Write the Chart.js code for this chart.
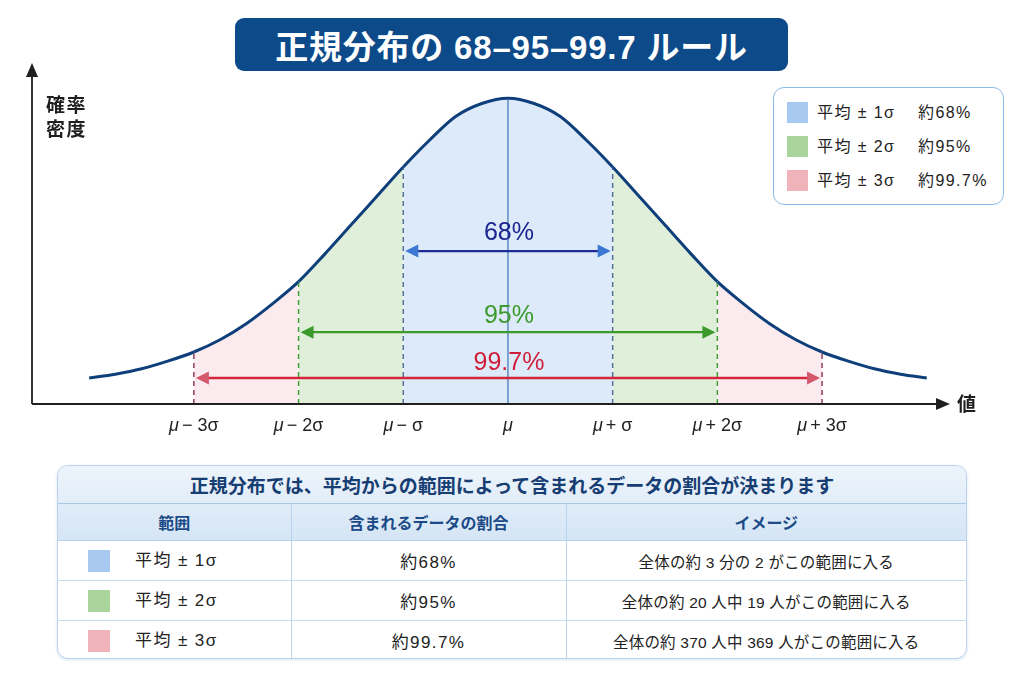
<!DOCTYPE html>
<html lang="ja">
<head>
<meta charset="utf-8">
<script src="https://cdn.jsdelivr.net/npm/chart.js@4.4.1/dist/chart.umd.min.js"></script>
<style>
  html, body { margin:0; padding:0; background:#ffffff; }
  body { width:1024px; height:683px; position:relative; overflow:hidden;
         font-family:"Liberation Sans","Noto Sans CJK JP",sans-serif; color:#222; }
  #chart { position:absolute; left:0; top:0; width:1024px; height:460px; z-index:1; }
  #title { position:absolute; left:235px; top:18px; width:553px; height:53px; background:#0c4a8a;
           border-radius:9px; color:#fff; font-weight:bold; font-size:33px; z-index:2;
           display:flex; align-items:center; justify-content:center; letter-spacing:0.8px;
           font-family:"Liberation Sans","Noto Sans CJK JP",sans-serif; }
  #legend { position:absolute; left:773px; top:87px; width:229px; height:116px; border:1.6px solid #8dbbe8;
            border-radius:11px; background:#fff; z-index:2; }
  .lrow { position:absolute; left:0; height:22px; width:100%; font-size:16px; letter-spacing:1.4px; }
  .lrow .sw { position:absolute; left:13px; top:0; width:21px; height:21px; }
  .lrow .t1 { position:absolute; left:43px; top:0; line-height:21px; }
  .lrow .t2 { position:absolute; left:144px; top:0; line-height:21px; }
  #tbl { position:absolute; left:57px; top:465px; width:910px; height:194px; border:1.5px solid #b9d3ee;
         border-radius:11px; overflow:hidden; box-sizing:border-box; z-index:2; background:#fff;
         box-shadow:0 1px 3px rgba(120,150,190,0.25); }
  #tbl table { border-collapse:collapse; width:100%; table-layout:fixed; }
  #tbl td, #tbl th { padding:0; }
  .caption { height:37px; background:linear-gradient(#edf4fb,#e2edf8); color:#173e72; font-weight:bold;
             font-size:19px; text-align:center; border-bottom:1.5px solid #a9c9ea; }
  .head th { height:36px; background:linear-gradient(#e0ecf8,#d4e5f5); color:#1b4a86; font-weight:bold;
             font-size:16px; text-align:center; border-bottom:1px solid #b9d3ee; }
  .head th + th { border-left:1px solid #b9d3ee; }
  .body td { height:39px; font-size:17px; letter-spacing:1.4px; text-align:center; border-top:1px solid #c8dcf0; }
  .body td + td { border-left:1px solid #b9d3ee; }
  .body td.c3 { font-size:15.5px; letter-spacing:0.2px; }
  .body td.c1 { text-align:left; position:relative; }
  .body .sw { position:absolute; left:30px; top:9px; width:22px; height:22px; }
  .body .nm { position:absolute; left:77px; top:0; line-height:39px; }
</style>
</head>
<body>
<canvas id="chart" width="1024" height="460"></canvas>
<div id="title"></div>
<div id="legend"></div>
<div id="tbl"></div>
<script>
// ---- data ----
const xSigma = [-4,-3.75,-3.5,-3.25,-3,-2.75,-2.5,-2.25,-2,-1.75,-1.5,-1.25,-1,-0.75,-0.5,-0.25,0,
                0.25,0.5,0.75,1,1.25,1.5,1.75,2,2.25,2.5,2.75,3,3.25,3.5,3.75,4];
const density = [0.034,0.039,0.046,0.056,0.068,0.084,0.105,0.131,0.160,0.196,0.234,0.272,0.310,0.345,0.376,0.393,0.400,
                 0.393,0.376,0.345,0.310,0.272,0.234,0.196,0.160,0.131,0.105,0.084,0.068,0.056,0.046,0.039,0.034];
const tickValues = [-3,-2,-1,0,1,2,3];
const tickLabels = ['μ−3σ','μ−2σ','μ−σ','μ','μ+σ','μ+2σ','μ+3σ'];
const bandSigma = [1,2,3];
const bandNames = ['平均 ± 1σ','平均 ± 2σ','平均 ± 3σ'];
const bandShares = ['約68%','約95%','約99.7%'];
const bandPercents = ['68%','95%','99.7%'];
const bandImages = ['全体の約 3 分の 2 がこの範囲に入る','全体の約 20 人中 19 人がこの範囲に入る','全体の約 370 人中 369 人がこの範囲に入る'];
const titleText = '正規分布の 68–95–99.7 ルール';
const tableCaption = '正規分布では、平均からの範囲によって含まれるデータの割合が決まります';
const tableHeaders = ['範囲','含まれるデータの割合','イメージ'];
const yAxisTitle = ['確率','密度'];
const xAxisTitle = '値';

// ---- styles ----
const swatchColors = ['#a7c9ef','#a9d49c','#efb3b9'];
const fillColors = ['#ddeaf9','#e0efd9','#fbebee'];
const dashColors = ['#4d6b9c','#3d9b34','#8c2d52'];
const arrowLineColors = ['#1d2e96','#3a9a2a','#d3263b'];
const arrowHeadColors = ['#3a78d2','#3a9a2a','#d4586c'];
const pctTextColors = ['#1b2590','#3c9b2c','#d01f3a'];
const arrowLevels = [0.200, 0.094, 0.034];
const textLevels = [0.2235, 0.115, 0.0535];

// ---- HTML parts ----
document.getElementById('title').textContent = titleText;
const lg = document.getElementById('legend');
bandNames.forEach((n,i) => {
  const r = document.createElement('div');
  r.className = 'lrow'; r.style.top = (14 + i*34) + 'px';
  r.innerHTML = `<div class="sw" style="background:${swatchColors[i]}"></div><span class="t1">${n}</span><span class="t2">${bandShares[i]}</span>`;
  lg.appendChild(r);
});
let html = `<table><colgroup><col style="width:233px"><col style="width:275px"><col></colgroup>
<tr><td colspan="3" class="caption">${tableCaption}</td></tr>
<tr class="head">${tableHeaders.map(h=>`<th>${h}</th>`).join('')}</tr>`;
bandNames.forEach((n,i) => {
  html += `<tr class="body"><td class="c1"><div class="sw" style="background:${swatchColors[i]}"></div><span class="nm">${n}</span></td><td>${bandShares[i]}</td><td class="c3">${bandImages[i]}</td></tr>`;
});
html += '</table>';
document.getElementById('tbl').innerHTML = html;

// ---- chart ----
function bandIndex(x) {
  const a = Math.abs(x);
  for (let i = 0; i < bandSigma.length; i++) if (a < bandSigma[i] - 1e-9) return i;
  return -1;
}
const points = xSigma.map((x,i) => ({x, y: density[i]}));

const overlay = {
  id: 'overlay',
  afterDatasetsDraw(chart) {
    const {ctx, chartArea: ca, scales: {x: xs, y: ys}} = chart;
    const y0 = ys.getPixelForValue(0);
    const curveY = v => ys.getPixelForValue(density[xSigma.indexOf(v)]);
    ctx.save();
    // vertical dashed lines
    ctx.lineWidth = 1.4;
    ctx.setLineDash([5,4]);
    bandSigma.forEach((s,i) => {
      [-s, s].forEach(v => {
        const px = xs.getPixelForValue(v);
        ctx.strokeStyle = dashColors[i];
        ctx.beginPath(); ctx.moveTo(px, y0); ctx.lineTo(px, curveY(v) + 1.5); ctx.stroke();
      });
    });
    ctx.setLineDash([]);
    // mean line
    const mx = xs.getPixelForValue(0);
    ctx.strokeStyle = '#3d71b8'; ctx.lineWidth = 1.2;
    ctx.beginPath(); ctx.moveTo(mx, y0); ctx.lineTo(mx, curveY(0) + 1.5); ctx.stroke();
    // range arrows
    bandSigma.forEach((s,i) => {
      const xl = xs.getPixelForValue(-s) + 2, xr = xs.getPixelForValue(s) - 2;
      const ay = ys.getPixelForValue(arrowLevels[i]);
      const L = 13, W = 6.5;
      ctx.strokeStyle = arrowLineColors[i]; ctx.lineWidth = 2.4;
      ctx.beginPath(); ctx.moveTo(xl + L - 2, ay); ctx.lineTo(xr - L + 2, ay); ctx.stroke();
      ctx.fillStyle = arrowHeadColors[i];
      ctx.beginPath(); ctx.moveTo(xl, ay); ctx.lineTo(xl + L, ay - W); ctx.lineTo(xl + L, ay + W); ctx.closePath(); ctx.fill();
      ctx.beginPath(); ctx.moveTo(xr, ay); ctx.lineTo(xr - L, ay - W); ctx.lineTo(xr - L, ay + W); ctx.closePath(); ctx.fill();
      ctx.fillStyle = pctTextColors[i];
      ctx.font = '25px "Liberation Sans", "Noto Sans CJK JP", sans-serif';
      ctx.textAlign = 'center'; ctx.textBaseline = 'middle';
      ctx.fillText(bandPercents[i], mx + 1, ys.getPixelForValue(textLevels[i]));
    });
    // axes
    ctx.strokeStyle = '#1f1f1f'; ctx.fillStyle = '#1f1f1f'; ctx.lineWidth = 1.8;
    ctx.beginPath(); ctx.moveTo(ca.left, y0); ctx.lineTo(ca.right - 10, y0); ctx.stroke();
    ctx.beginPath(); ctx.moveTo(ca.left, y0); ctx.lineTo(ca.left, ca.top + 10); ctx.stroke();
    ctx.beginPath(); ctx.moveTo(ca.right, y0); ctx.lineTo(ca.right - 14, y0 - 6); ctx.lineTo(ca.right - 14, y0 + 6); ctx.closePath(); ctx.fill();
    ctx.beginPath(); ctx.moveTo(ca.left, ca.top); ctx.lineTo(ca.left - 6, ca.top + 14); ctx.lineTo(ca.left + 6, ca.top + 14); ctx.closePath(); ctx.fill();
    // axis titles
    ctx.font = 'bold 19px "Noto Sans CJK JP", sans-serif';
    ctx.textAlign = 'left'; ctx.textBaseline = 'middle';
    if ('letterSpacing' in ctx) ctx.letterSpacing = '1.5px';
    ctx.fillText(yAxisTitle[0], ca.left + 14, ca.top + 42);
    ctx.fillText(yAxisTitle[1], ca.left + 14, ca.top + 66);
    if ('letterSpacing' in ctx) ctx.letterSpacing = '0px';
    ctx.font = 'bold 19px "Noto Sans CJK JP", sans-serif';
    ctx.fillText(xAxisTitle, ca.right + 7, y0);
    // tick labels (italic μ)
    const fI = 'italic 18px "Liberation Sans", sans-serif';
    const fN = '18px "Liberation Sans", sans-serif';
    ctx.textBaseline = 'middle';
    tickValues.forEach((v, k) => {
      const lab = tickLabels[k];
      const head = lab[0], op = lab.slice(1, 2), rest = lab.slice(2);
      ctx.font = fI; const wH = ctx.measureText(head).width;
      ctx.font = fN; const wO = op ? ctx.measureText(op).width : 0; const wR = rest ? ctx.measureText(rest).width : 0;
      const g1 = op ? 3 : 0, g2 = rest ? 5 : 0;
      const total = wH + g1 + wO + g2 + wR;
      let px = xs.getPixelForValue(v) - total / 2;
      const ty = y0 + 22;
      ctx.textAlign = 'left'; ctx.fillStyle = '#222';
      ctx.font = fI; ctx.fillText(head, px, ty); px += wH + g1;
      ctx.font = fN;
      if (op) { ctx.fillText(op, px, ty); px += wO + g2; }
      if (rest) ctx.fillText(rest, px, ty);
    });
    ctx.restore();
  }
};

new Chart(document.getElementById('chart'), {
  type: 'line',
  data: {
    datasets: [{
      data: points,
      borderColor: '#0f3f7a',
      borderWidth: 3,
      pointRadius: 0,
      fill: 'origin',
      backgroundColor: 'rgba(0,0,0,0)',
      cubicInterpolationMode: 'monotone',
      segment: {
        backgroundColor: c => {
          const b = bandIndex((c.p0.parsed.x + c.p1.parsed.x) / 2);
          return b < 0 ? 'rgba(255,255,255,0)' : fillColors[b];
        }
      }
    }]
  },
  options: {
    responsive: false,
    animation: false,
    devicePixelRatio: 1,
    layout: { padding: { left: 32, right: 74, top: 63, bottom: 56 } },
    scales: {
      x: { type: 'linear', min: -4.546, max: 4.222, display: false },
      y: { min: 0, max: 0.446, display: false }
    },
    plugins: { legend: { display: false }, tooltip: { enabled: false } }
  },
  plugins: [overlay]
});
</script>
</body>
</html>
